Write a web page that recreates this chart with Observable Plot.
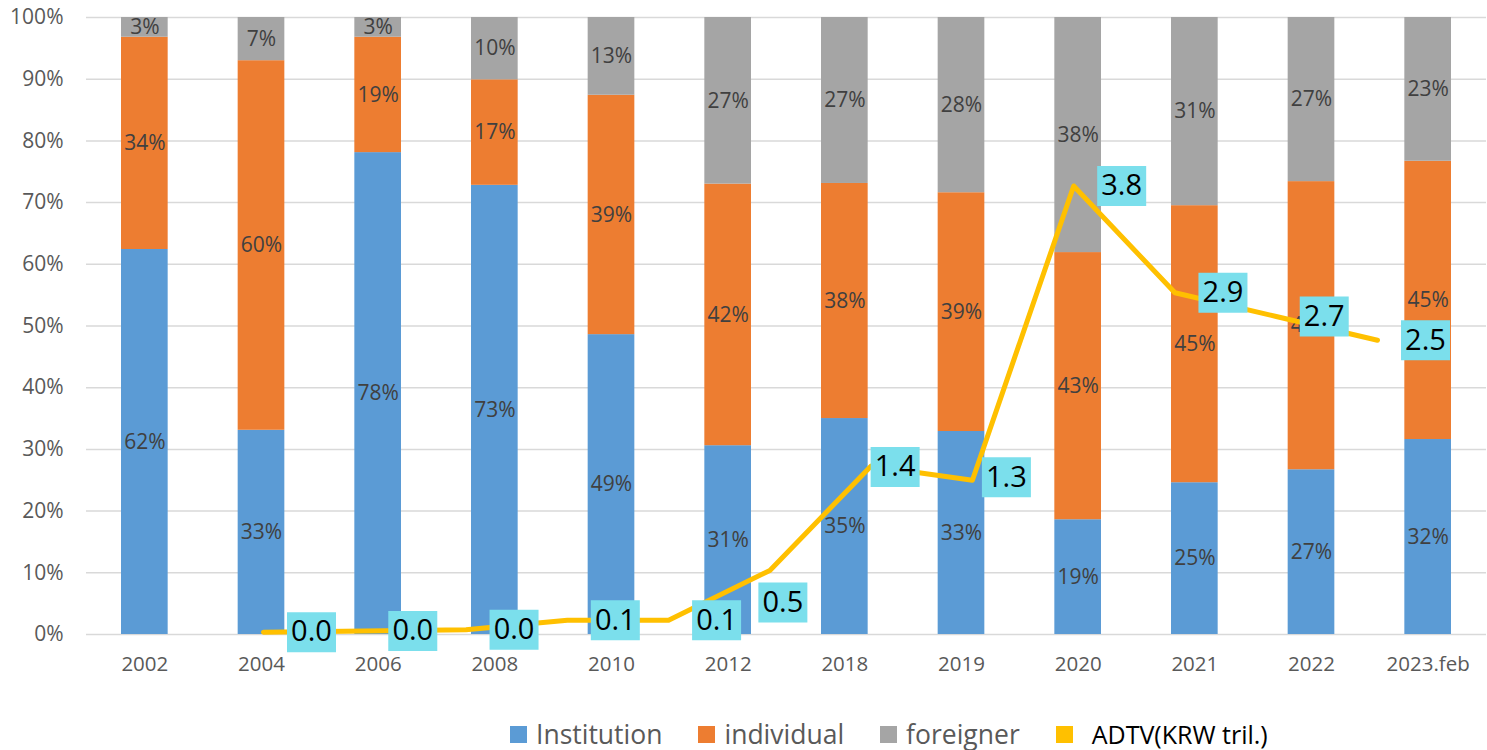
<!DOCTYPE html>
<html>
<head>
<meta charset="utf-8">
<script src="https://cdn.jsdelivr.net/npm/d3@7"></script>
<script src="https://cdn.jsdelivr.net/npm/@observablehq/plot@0.6"></script>
<style>
  html, body { margin: 0; padding: 0; background: #fff; }
  #wrap { position: relative; width: 1487px; height: 750px; font-family: "Open Sans", sans-serif; }
  #wrap svg { position: absolute; left: 0; top: 0; }
  #legend { position: absolute; left: 510px; top: 721px; display: flex; align-items: center; height: 27px; }
  .item { display: flex; align-items: center; margin-right: 36px; }
  .sw { width: 17px; height: 17px; margin-right: 9px; }
  .lt { font-size: 26px; color: #595959; line-height: 27px; }
</style>
</head>
<body>
<div id="wrap"><div id="legend"></div></div>
<script>
const years = ["2002","2004","2006","2008","2010","2012","2018","2019","2020","2021","2022","2023.feb"];
const institution = [62.4, 33.1, 78.1, 72.8, 48.6, 30.6, 35.0, 32.9, 18.6, 24.6, 26.7, 31.6];
const individual  = [34.4, 59.9, 18.7, 17.1, 38.8, 42.4, 38.1, 38.7, 43.3, 44.9, 46.7, 45.1];
const foreigner   = [3.2, 7.0, 3.2, 10.1, 12.6, 27.0, 26.9, 28.4, 38.1, 30.5, 26.6, 23.3];
const adtv        = [0.02, 0.03, 0.04, 0.12, 0.12, 0.54, 1.42, 1.30, 3.78, 2.88, 2.68, 2.48];
const seriesNames = ["Institution", "individual", "foreigner"];
const lineName = "ADTV(KRW tril.)";
const colors = ["#5B9BD5", "#ED7D31", "#A5A5A5"];
const lineColor = "#FFC000";
const labelBg = "#7BDFEC";
const yTicks = d3.range(0, 11).map(i => i / 10);

const seriesValues = [institution, individual, foreigner];
const rows = [];
seriesNames.forEach((s, si) => years.forEach((y, i) => rows.push({year: y, series: s, value: seriesValues[si][i]})));
const lineRows = years.map((y, i) => ({year: y, v: adtv[i]}));

const W = 1487, H = 690;
const common = {width: W, height: H, marginTop: 17, marginBottom: 56, marginLeft: 86, marginRight: 1};

const bars = Plot.plot({
  ...common,
  style: {fontFamily: "'Open Sans', sans-serif", background: "transparent", color: "#595959"},
  x: {type: "band", domain: years, paddingInner: 0.6, paddingOuter: 0.3, round: false, label: null, axis: null},
  y: {domain: [0, 1], label: null, axis: null},
  color: {domain: seriesNames, range: colors},
  marks: [
    Plot.gridY(yTicks, {stroke: "#D9D9D9", strokeOpacity: 1, strokeWidth: 1.5}),
    Plot.barY(rows, Plot.stackY({offset: "normalize", x: "year", y: "value", fill: "series"})),
    Plot.text(rows, Plot.stackY({offset: "normalize", x: "year", y: "value",
      text: d => Math.round(d.value) + "%", fill: "#404040", fontSize: 21})),
    Plot.axisY(yTicks, {tickSize: 0, tickPadding: 23, fontSize: 21, tickFormat: d3.format(".0%"), label: null}),
    Plot.axisX({tickSize: 0, tickPadding: 22, fontSize: 20.5, label: null})
  ]
});

const rectSymbol = { draw(ctx) { ctx.rect(-24.5, -20, 49, 40); } };
function labelMarks(filter, dx, dy) {
  return [
    Plot.dot(lineRows, {x: "year", y: "v", filter, symbol: rectSymbol, r: 1, fill: labelBg, stroke: "none", dx, dy}),
    Plot.text(lineRows, {x: "year", y: "v", filter, text: d => d.v.toFixed(1), fill: "#000", fontSize: 29, dx, dy})
  ];
}
const special = {"2012": [13, 32], "2018": [24, 1], "2019": [34, -3]};

const line = Plot.plot({
  ...common,
  style: {fontFamily: "'Open Sans', sans-serif", background: "transparent"},
  x: {type: "point", domain: years, range: [263, 1377], padding: 0, round: false, axis: null},
  y: {domain: [0, 5.2], axis: null},
  marks: [
    Plot.line(lineRows, {x: "year", y: "v", stroke: lineColor, strokeWidth: 5, strokeLinecap: "round", strokeLinejoin: "round"}),
    ...labelMarks(d => !(d.year in special), 48, 0),
    ...Object.entries(special).flatMap(([yr, [dx, dy]]) => labelMarks(d => d.year === yr, dx, dy))
  ]
});

const wrap = document.getElementById("wrap");
wrap.insertBefore(line, wrap.firstChild);
wrap.insertBefore(bars, wrap.firstChild);

const legend = document.getElementById("legend");
const items = seriesNames.map((s, i) => ({name: s, color: colors[i], gap: 9, size: 26.5, tc: "#595959"}))
  .concat([{name: lineName, color: lineColor, gap: 19, size: 25, tc: "#000"}]);
items.forEach(it => {
  const d = document.createElement("div"); d.className = "item";
  const sw = document.createElement("div"); sw.className = "sw"; sw.style.background = it.color; sw.style.marginRight = it.gap + "px";
  const t = document.createElement("span"); t.className = "lt"; t.textContent = it.name; t.style.fontSize = it.size + "px"; t.style.color = it.tc;
  d.appendChild(sw); d.appendChild(t); legend.appendChild(d);
});
</script>
</body>
</html>
